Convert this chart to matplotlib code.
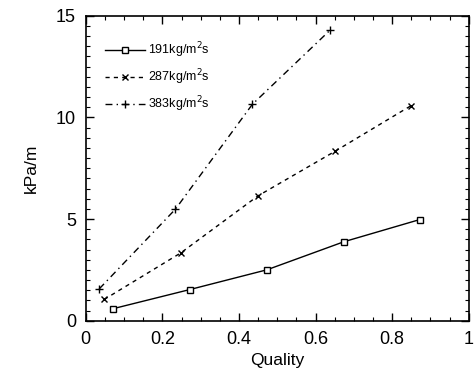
import matplotlib
matplotlib.use("Agg")
import matplotlib.pyplot as plt
from matplotlib.ticker import MultipleLocator

plt.rcParams['font.family'] = ['Liberation Sans', 'DejaVu Sans']

# Data
x_191 = [0.072, 0.272, 0.473, 0.674, 0.872]
y_191 = [0.60, 1.54, 2.51, 3.89, 4.98]

x_287 = [0.048, 0.248, 0.45, 0.650, 0.850]
y_287 = [1.05, 3.34, 6.15, 8.33, 10.59]

x_383 = [0.035, 0.234, 0.435, 0.637]
y_383 = [1.57, 5.49, 10.65, 14.28]

labels = ["191kg/m$^2$s", "287kg/m$^2$s", "383kg/m$^2$s"]

fig = plt.figure(figsize=(4.74, 3.77), dpi=100)
ax = fig.add_axes([0.181, 0.149, 0.808, 0.809])

ax.plot(x_191, y_191, color="black", linestyle="-", linewidth=1.0,
        marker="s", markersize=4.5, markerfacecolor="white", markeredgewidth=1.0,
        label=labels[0])
ax.plot(x_287, y_287, color="black", linestyle=(0, (3, 3)), linewidth=1.0,
        marker="x", markersize=5, markeredgewidth=1.0, label=labels[1])
ax.plot(x_383, y_383, color="black", linestyle=(0, (5, 3, 1, 3)), linewidth=1.0,
        marker="+", markersize=6, markeredgewidth=1.0, label=labels[2])

ax.set_xlim(0, 1)
ax.set_ylim(0, 15)
ax.xaxis.set_major_locator(MultipleLocator(0.2))
ax.xaxis.set_minor_locator(MultipleLocator(0.05))
ax.yaxis.set_major_locator(MultipleLocator(5))
ax.yaxis.set_minor_locator(MultipleLocator(0.5))
ax.xaxis.set_major_formatter(plt.FuncFormatter(lambda v, p: "%g" % round(v, 2)))

ax.tick_params(which="both", direction="in", top=True, right=True, labelsize=13)
ax.tick_params(which="major", length=6, width=1.0, pad=7)
ax.tick_params(which="minor", length=3, width=0.8)
for s in ax.spines.values():
    s.set_linewidth(1.2)

ax.set_xlabel("Quality", fontsize=12.5, labelpad=4)
ax.set_ylabel("kPa/m", fontsize=12.5, labelpad=12)

ax.legend(loc="upper left", frameon=False, fontsize=9, handlelength=3.2,
          handletextpad=0.3, labelspacing=0.56, bbox_to_anchor=(0.02, 0.955))

fig.savefig("out.png", dpi=100)
